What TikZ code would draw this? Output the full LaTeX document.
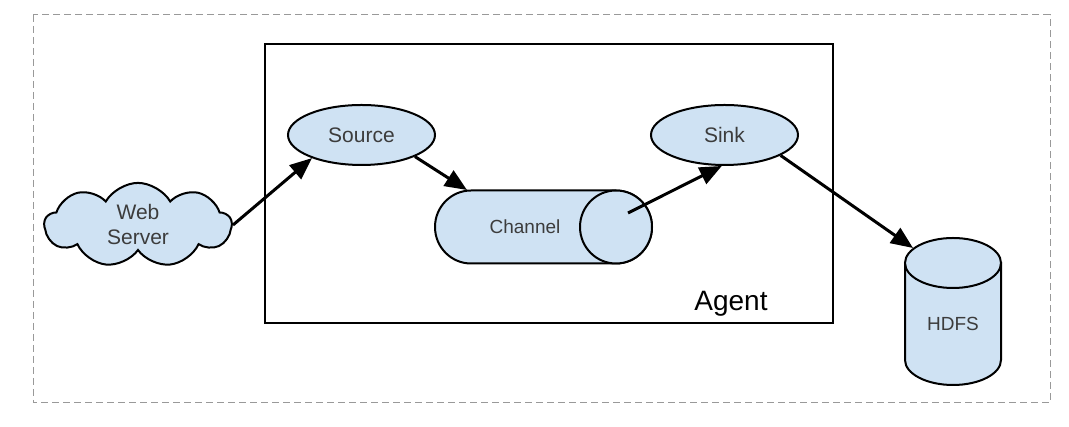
\documentclass[tikz,border=0pt]{standalone}
\usepackage{fontspec}
\setmainfont{Liberation Sans}
\usetikzlibrary{shapes.geometric,shapes.symbols,arrows.meta}
\definecolor{lblue}{HTML}{CFE2F3}
\definecolor{tgray}{HTML}{3C3C3C}
\tikzset{
  ovalnode/.style={ellipse,draw=black,line width=2pt,fill=lblue,minimum width=147pt,minimum height=60pt,inner sep=0pt,text=tgray,font=\fontsize{21}{24}\selectfont},
  shapeline/.style={draw=black,line width=2pt,fill=lblue},
  flow/.style={line width=3pt,-{Triangle[length=22pt,width=18pt]}},
  lbl/.style={text=tgray,font=\fontsize{19}{22}\selectfont,inner sep=0pt}
}
\begin{document}
\begin{tikzpicture}[x=1pt,y=1pt]
\useasboundingbox (0,0) rectangle (1069,427);
% outer dashed frame
\draw[draw=gray!80,line width=1pt,dash pattern=on 7pt off 4pt] (33,412) rectangle (1050,24);
% agent box
\draw[line width=2.5pt] (265,383) rectangle (833,104);
\node[font=\fontsize{28}{32}\selectfont,inner sep=0pt] (agent) at (731,123) {Agent};
% web server cloud
\node[cloud,cloud puffs=9,cloud puff arc=120,aspect=2.7,draw=black,line width=2pt,fill=lblue,
      minimum width=187pt,minimum height=70pt,inner sep=0pt,align=center,text=tgray,
      font=\fontsize{21}{25}\selectfont] (web) at (138,202) {Web\\Server};
% source and sink
\node[ovalnode] (source) at (361.5,292) {Source};
\node[ovalnode] (sink) at (724.5,292) {Sink};
% channel
\path[shapeline] (471,236.5) arc (90:270:36 and 36.5) -- (616,163.5) arc (-90:90:36 and 36.5) -- cycle;
\path[shapeline] (616,200) ellipse (36 and 36.5);
\node[lbl] (channel) at (525,200) {Channel};
\coordinate (chin) at (467,237);
\coordinate (chout) at (628,214);
% HDFS
\path[shapeline] (905,164) -- (905,67) arc (180:360:48 and 25) -- (1001,164) -- cycle;
\path[shapeline] (953,164) ellipse (48 and 25);
\node[lbl] (hdfs) at (953,103) {HDFS};
\coordinate (hdin) at (913,179);
% connectors
\draw[flow] (web.east) -- (source.205);
\draw[flow] (source.338) -- (chin);
\draw[flow] (chout) -- (sink.265);
\draw[flow] (sink.340) -- (hdin);
\end{tikzpicture}
\end{document}
